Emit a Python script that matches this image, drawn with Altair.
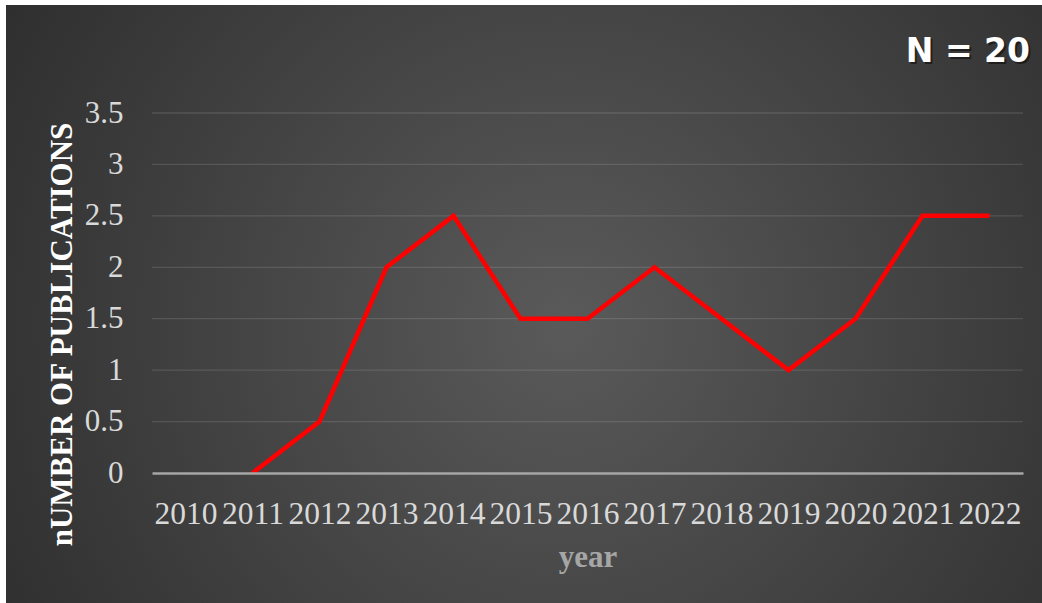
import altair as alt
import pandas as pd

years = ["2010", "2011", "2012", "2013", "2014", "2015", "2016", "2017",
         "2018", "2019", "2020", "2021", "2022"]
pub_years = ["2011", "2012", "2013", "2014", "2015", "2016", "2017",
             "2018", "2019", "2020", "2021", "2022"]
publications = [0, 0.5, 2, 2.5, 1.5, 1.5, 2, 1.5, 1, 1.5, 2.5, 2.5]
y_ticks = [0, 0.5, 1, 1.5, 2, 2.5, 3, 3.5]
grid_vals = [0.5, 1, 1.5, 2, 2.5, 3, 3.5]
note = "N = 20"

W, H = 871, 360
PL, PT, PR, PB = 152, 113, 19, 130

df = pd.DataFrame({"year": pub_years, "n": publications})
grid_df = pd.DataFrame({"g": grid_vals})
note_df = pd.DataFrame({"t": [note]})

bg = alt.Chart(note_df).mark_rect(
    fill={
        "gradient": "radial",
        "x1": 0.54, "y1": 0.52, "r1": 0,
        "x2": 0.54, "y2": 0.52, "r2": 0.75,
        "stops": [
            {"offset": 0, "color": "#5a5a5a"},
            {"offset": 1, "color": "#262626"},
        ],
    }
).encode(
    x=alt.value(6 - PL), x2=alt.value(1042 - PL),
    y=alt.value(5 - PT), y2=alt.value(603 - PT),
)

grid = alt.Chart(grid_df).mark_rule(color="#ffffff", opacity=0.12, strokeWidth=1.3).encode(
    y=alt.Y("g:Q", scale=alt.Scale(domain=[0, 3.5])),
    x=alt.value(0), x2=alt.value(W),
)

line = alt.Chart(df).mark_line(color="#ff0000", strokeWidth=4.5, strokeJoin="miter").encode(
    x=alt.X("year:O", scale=alt.Scale(domain=years, paddingInner=0, paddingOuter=0),
            axis=alt.Axis(title="year", labelAngle=0, labelFont="Liberation Serif",
                          labelFontSize=31.5, labelColor="#d9d9d9", labelPadding=25,
                          ticks=False, domainColor="#a6a6a6", domainWidth=2.5,
                          titleFont="Liberation Serif", titleFontSize=31,
                          titleFontWeight="bold", titleColor="#a6a6a6",
                          titleY=84, titleBaseline="middle", zindex=1)),
    y=alt.Y("n:Q", scale=alt.Scale(domain=[0, 3.5], nice=False),
            axis=alt.Axis(title="nUMBER OF PUBLICATIONS", values=y_ticks, grid=False,
                          format="~g",
                          domain=False, ticks=False, labelFont="Liberation Serif",
                          labelFontSize=31, labelColor="#d9d9d9", labelPadding=29,
                          titleFont="Liberation Serif", titleFontSize=31,
                          titleFontWeight="bold", titleColor="#ffffff",
                          titleAngle=270, titleX=62 - PL, titleY=334 - PT,
                          titleAlign="center", titleBaseline="middle", zindex=1)),
)

shadow = alt.Chart(note_df).mark_text(
    font="DejaVu Sans", fontWeight="bold", fontSize=33, color="#000000",
    opacity=0.45, align="right", baseline="middle", dx=2, dy=2,
).encode(text="t:N", x=alt.value(1030 - PL), y=alt.value(52 - PT))

label = alt.Chart(note_df).mark_text(
    font="DejaVu Sans", fontWeight="bold", fontSize=33, color="#ffffff",
    align="right", baseline="middle",
).encode(text="t:N", x=alt.value(1030 - PL), y=alt.value(52 - PT))

chart = alt.layer(bg, grid, line, shadow, label).properties(
    width=W, height=H,
    autosize=alt.AutoSizeParams(type="none"),
    padding={"left": PL, "top": PT, "right": PR, "bottom": PB},
    background="#ffffff",
).configure_view(stroke=None)

chart.save("out.html", embed_options={"renderer": "svg", "actions": False})
